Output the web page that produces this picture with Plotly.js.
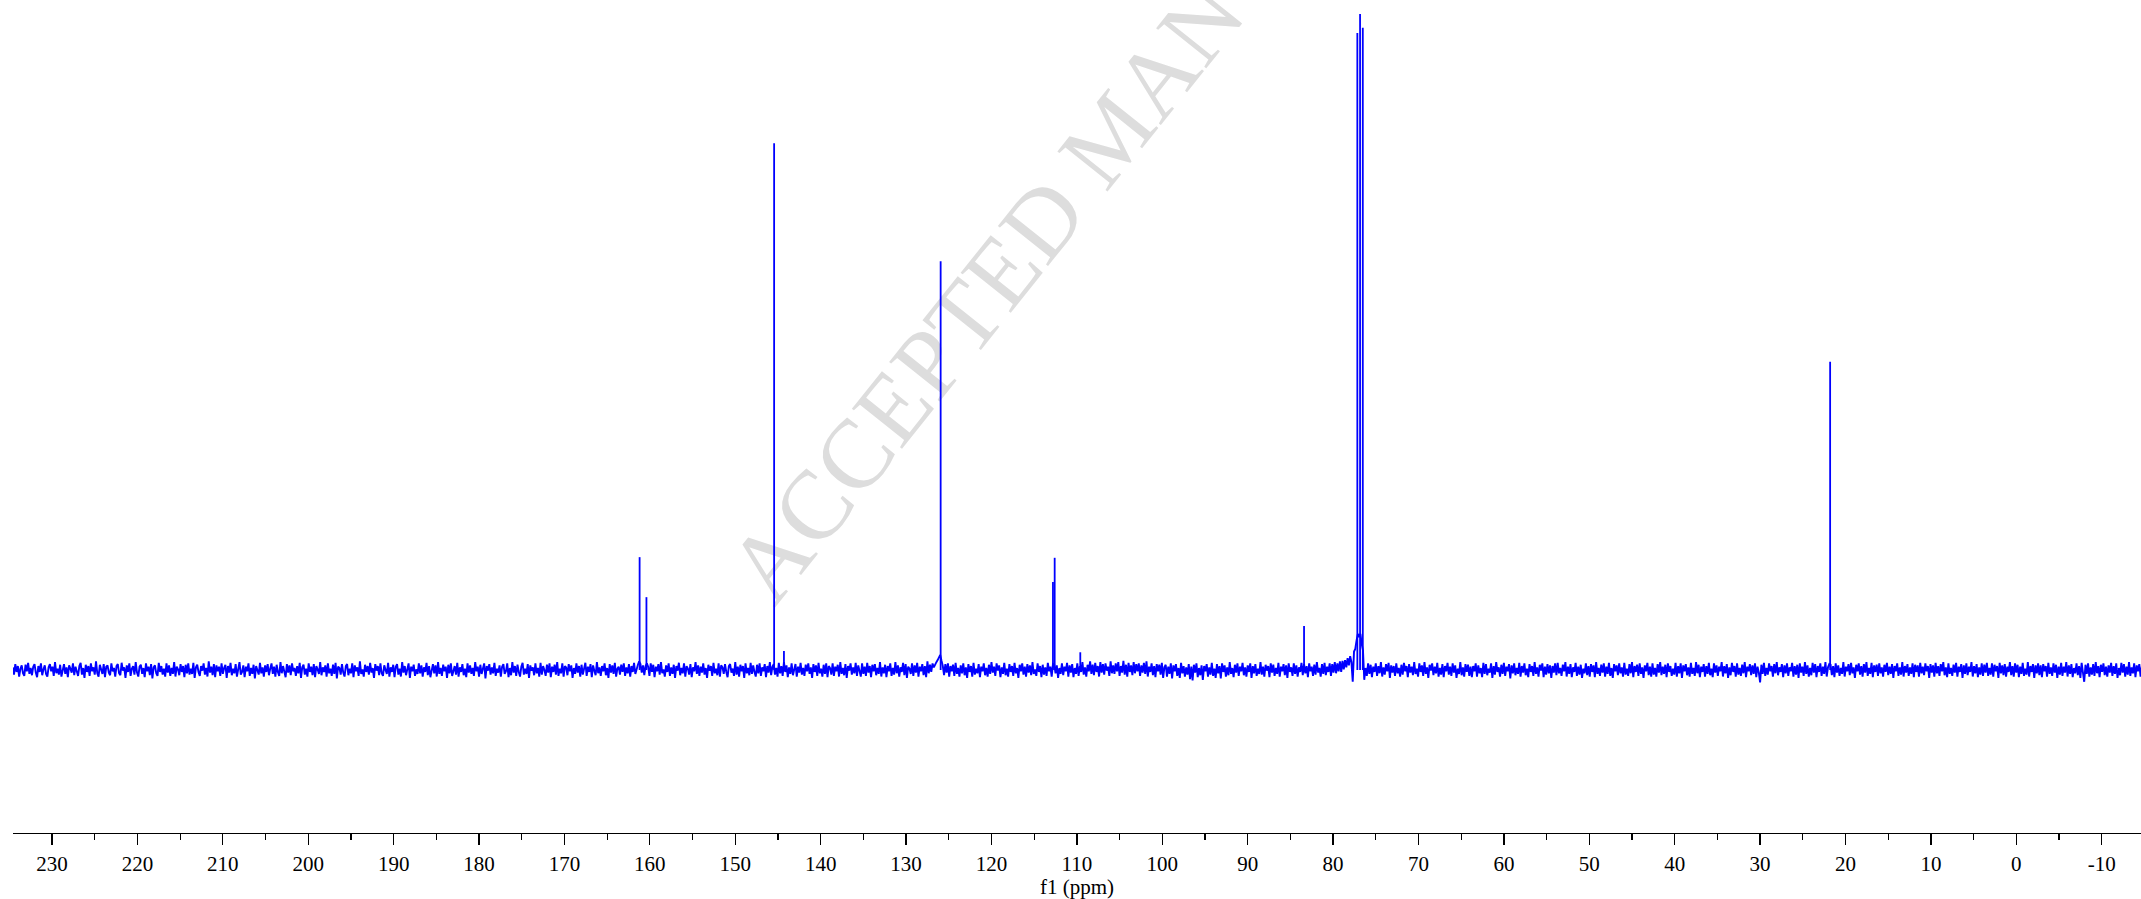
<!DOCTYPE html>
<html>
<head>
<meta charset="utf-8">
<script src="https://cdn.plot.ly/plotly-3.0.1.min.js"></script>
<style>html,body{margin:0;padding:0;background:#fff;}#chart{width:2141px;height:899px;}</style>
</head>
<body>
<div id="chart"></div>
<script>
// 13C NMR spectrum, chemical shifts in ppm, intensities relative to tallest line (=100)
const peakShifts  = [161.2, 160.4, 145.45, 144.3, 125.95, 112.8, 112.6, 109.6, 83.4, 77.16, 76.84, 76.52, 21.8];
const peakHeights = [17.2, 11.1, 80.3, 2.9, 62.3, 13.4, 17.1, 2.7, 6.7, 97.1, 100, 97.9, 47.0];

// baseline noise (estimated), sampled every 0.15 ppm starting at 234.6 ppm
const noiseStartPpm = 234.6;
const noiseStepPpm = 0.15;
const baselineNoise = [
0.4,-0.7,0.9,-0.3,0.6,-1.0,0.2,0.7,-0.5,-0.9,0.8,-0.2,1.1,-0.6,0.3,-0.8,0.5,0.9,-0.4,-1.1,
0.6,-0.3,1.0,-0.8,0.1,0.7,-0.6,-1.0,0.4,0.9,-0.2,0.5,-0.9,1.2,-0.5,0.2,-0.7,0.8,-1.0,0.3,
0.9,-0.6,0.4,-1.1,0.7,0.2,-0.4,1.0,-0.8,0.5,-0.1,-0.9,0.6,1.1,-0.7,0.3,-1.2,0.8,-0.3,0.6,
-0.9,1.0,-0.2,0.4,-0.7,1.3,-0.5,-1.0,0.8,0.1,-0.6,0.9,-1.1,0.5,0.7,-0.4,-0.8,1.0,-0.2,0.3,
-1.0,0.6,0.9,-0.5,-0.8,1.1,-0.1,0.4,-1.2,0.7,-0.3,1.0,-0.9,0.2,0.6,-0.7,1.2,-0.4,-1.0,0.5,
0.8,-0.6,0.3,-1.1,1.0,-0.2,0.5,-0.8,0.9,-1.3,0.4,0.7,-0.5,-0.9,1.1,-0.3,0.6,-0.7,0.2,-1.0,
1.0,-0.4,0.7,-0.9,0.3,-0.6,1.2,-1.0,0.5,0.1,-0.8,0.9,-0.3,0.6,-1.1,0.8,-0.5,1.0,-0.7,0.2,
-0.6,1.1,-1.2,0.4,0.8,-0.3,-0.9,0.6,-0.1,1.0,-0.7,0.3,-1.0,1.3,-0.4,0.5,-0.8,0.9,-1.1,0.7,
-0.2,0.5,-0.9,1.0,-0.6,0.3,0.8,-1.2,0.6,-0.4,1.1,-0.8,0.2,-0.5,0.9,-1.0,0.4,1.2,-0.7,-0.3,
0.7,-1.1,0.5,-0.2,1.0,-0.9,0.3,-0.6,0.8,-1.3,0.6,0.1,-0.7,1.1,-0.5,0.4,-1.0,0.7,-0.3,0.9,
-0.8,0.2,1.0,-0.6,0.5,-1.0,0.8,-0.3,-0.9,1.2,-0.5,0.6,-0.1,-1.1,0.9,-0.4,0.7,-0.8,1.0,-0.2,
0.3,-0.9,0.6,-0.5,1.1,-1.2,0.4,0.8,-0.7,0.2,-1.0,1.0,-0.3,0.5,-0.8,0.9,-1.1,0.6,0.1,-0.6,
1.2,-0.8,0.4,-0.3,0.7,-1.0,1.0,-0.5,0.2,-0.9,0.8,-0.6,1.1,-1.3,0.5,0.3,-0.7,0.9,-0.4,-1.0,
0.6,0.9,-0.8,0.2,-0.5,1.0,-1.1,0.7,-0.2,0.4,-0.9,1.3,-0.6,0.1,-1.0,0.8,-0.3,0.6,-0.7,1.1,
-0.4,0.3,-1.2,0.9,-0.1,0.6,-0.8,1.0,-0.5,-0.9,0.7,0.2,-0.6,1.1,-1.0,0.4,-0.3,0.8,-1.1,0.5,
0.9,-0.7,0.2,-1.0,1.2,-0.4,0.6,-0.8,0.3,1.0,-1.2,0.5,-0.2,0.8,-0.9,0.1,-0.6,1.0,-0.5,0.7,
-1.0,0.4,-0.3,1.1,-0.8,0.6,-1.1,0.2,0.9,-0.5,0.7,-1.0,1.2,-0.6,0.3,-0.9,0.8,-0.2,0.5,-1.2,
0.8,-0.5,1.0,-0.9,0.1,0.6,-0.7,1.1,-1.0,0.4,-0.3,0.9,-0.8,0.2,-1.1,1.0,-0.4,0.7,-0.6,0.3,
-0.9,1.2,-0.2,0.5,-1.0,0.8,-0.6,0.3,1.0,-1.3,0.6,-0.1,0.9,-0.7,0.4,-0.5,1.1,-0.9,0.2,-0.4,
0.7,-1.0,0.5,0.9,-0.6,-0.2,1.0,-1.1,0.3,-0.8,1.2,-0.4,0.6,-0.9,0.8,-0.3,-1.0,0.5,1.1,-0.7,
0.2,-0.6,0.9,-1.2,0.7,-0.1,0.4,-0.8,1.0,-0.5,0.3,-1.0,1.1,-0.7,0.6,0.0,-0.9,0.8,-0.4,1.0,
-1.1,0.5,-0.3,0.8,-0.7,1.2,-0.9,0.2,-0.5,1.0,-1.0,0.6,0.4,-0.8,0.9,-0.2,0.7,-1.2,0.3,-0.6,
1.0,-0.4,0.6,-1.0,0.8,-0.7,0.2,1.1,-0.9,0.5,-0.3,0.9,-1.1,0.7,-0.1,-0.8,1.2,-0.5,0.4,-0.9,
0.6,-0.2,1.0,-0.8,0.3,-1.2,0.9,-0.4,0.7,-0.6,1.1,-1.0,0.2,0.5,-0.7,0.8,-0.3,1.0,-0.9,0.4,
-0.5,0.9,-1.0,0.6,-0.3,1.1,-0.6,0.3,0.8,1.3,0.9,-0.4,0.7,-0.8,0.6,1.0,0.5,-0.9,1.0,-0.3,
0.8,-1.1,0.5,-0.2,0.9,-0.7,1.2,-0.5,0.1,-1.0,0.7,-0.3,1.0,-0.9,0.4,-0.6,0.8,-1.2,0.6,-0.1,
1.1,-0.8,0.3,-0.5,1.0,-1.0,0.6,0.2,-0.7,0.9,-1.1,0.4,-0.2,1.2,-0.6,0.7,-0.9,0.5,-0.4,1.0,
-0.7,0.3,-1.2,0.8,-0.1,0.6,-0.9,1.1,-0.5,0.2,-0.8,1.0,-1.0,0.7,0.4,-0.6,0.9,-0.3,-1.1,0.6,
0.9,-0.4,0.2,-0.9,1.2,-0.7,0.5,-1.0,0.8,-0.2,0.6,-1.2,1.0,-0.5,0.3,-0.8,1.1,-0.6,0.7,-0.3,
-1.0,0.8,-0.5,1.0,-0.9,0.4,-0.2,0.9,-1.1,0.6,-0.4,1.2,-0.8,0.5,0.9,-0.7,0.3,-1.0,1.1,-0.5,
0.6,-0.9,1.2,-0.3,0.7,-1.1,0.4,-0.6,1.0,-0.8,0.2,0.9,-1.0,0.5,-0.4,1.1,-0.7,0.3,-0.9,0.8,
-0.2,1.0,-0.6,0.4,-1.2,0.9,-0.3,0.7,-0.9,1.1,-0.5,0.2,-1.0,0.8,-0.6,1.0,-1.1,0.6,0.3,-0.7,
1.0,-0.9,0.5,-0.2,0.8,-1.0,1.2,-0.6,0.3,-0.8,0.9,-1.2,0.6,-0.1,1.0,-0.7,0.4,-0.5,1.1,-0.9,
0.7,-0.3,-1.0,1.0,-0.6,0.5,-0.9,1.1,-0.4,0.6,-1.1,0.8,-0.2,0.9,-0.8,0.3,-0.6,1.2,-1.0,0.4,
-0.5,0.8,-1.1,0.6,-0.2,1.0,-0.9,0.3,-0.7,1.2,-0.5,0.7,-1.0,0.4,-0.3,1.1,-0.8,0.9,-1.2,0.5,
0.2,-0.6,1.0,-0.9,0.7,-0.4,1.1,-1.0,0.5,-0.2,0.9,-0.8,0.6,-1.1,1.3,-0.5,0.8,-0.3,1.0,0.4,
0.9,1.2,1.5,1.9,2.3,1.4,0.6,-0.8,0.9,-0.4,1.0,-1.0,0.6,-0.2,0.8,-0.9,1.1,-0.6,0.3,-1.0,
0.7,-0.5,1.0,-0.8,0.4,-1.2,0.9,-0.3,0.6,-1.0,1.1,-0.7,0.2,-0.5,0.9,-1.1,0.5,-0.2,1.0,-0.8,
0.3,-1.0,0.8,-0.6,1.2,-0.4,0.5,-0.9,1.0,-0.1,0.7,-1.1,0.4,-0.6,1.1,-0.8,0.2,-1.0,0.9,-0.3,
0.6,-0.9,1.1,-0.5,0.3,-1.2,0.8,-0.2,1.0,-0.7,0.5,-1.0,0.9,-0.4,0.7,-0.8,1.2,-0.6,0.1,-0.9,
1.0,-0.3,0.6,-1.1,0.8,-0.7,0.4,-0.9,1.1,-0.2,0.5,-1.0,0.9,0.8,-0.5,0.7,-1.2,0.3,-0.6,1.0,
-0.8,0.5,-0.2,1.1,-1.0,0.7,-0.4,0.9,-1.1,0.3,-0.6,1.0,-0.9,0.6,-0.3,1.2,-0.7,0.4,-1.0,0.8,
-0.2,1.3,-0.6,0.8,-0.8,1.1,-0.3,0.6,-1.0,1.2,-0.4,0.9,-0.7,1.0,-0.1,0.5,-0.9,1.3,-0.5,0.7,
-0.6,1.0,-0.2,1.2,-0.9,0.6,-0.4,1.4,-0.7,0.8,-1.0,1.1,-0.3,0.7,-0.8,1.2,-0.5,0.9,-0.2,1.0,
-0.9,0.7,-0.4,1.1,-0.6,1.3,-1.0,0.5,-0.3,1.0,-0.8,0.6,-1.1,0.9,-0.2,0.8,-0.7,1.1,-1.2,0.4,
0.8,-1.0,0.5,-0.6,1.0,-1.3,0.7,-0.2,0.9,-0.9,0.3,-1.2,1.1,-0.5,0.6,-1.0,0.4,-0.7,0.9,-1.4,
0.5,-1.6,0.8,-0.4,1.0,-1.1,0.3,-0.8,0.7,-1.5,0.6,-0.2,0.9,-1.0,0.4,-0.7,1.1,-0.9,0.2,-1.2,
0.9,-0.5,0.6,-1.3,1.0,-0.3,0.7,-1.0,0.4,-0.8,1.2,-0.6,0.3,-1.1,0.8,-0.4,1.0,-0.9,0.5,-0.2,
1.1,-0.8,0.4,-1.0,0.7,-0.3,1.0,-1.2,0.6,-0.5,0.9,-0.9,0.2,-0.6,1.2,-0.7,0.5,-1.0,0.8,-0.1,
0.6,-1.1,1.0,-0.4,0.8,-0.9,0.3,-0.6,1.1,-1.0,0.5,-0.2,0.9,-0.8,0.7,-1.2,1.0,-0.3,0.4,-0.9,
1.0,-0.6,0.7,-1.0,0.4,-0.3,1.1,-0.8,0.9,-0.5,0.6,-1.1,1.0,-0.2,0.5,-0.9,0.8,-0.7,1.2,-0.4,
0.3,-1.0,0.9,-0.6,1.1,-0.8,0.5,-0.3,1.0,-0.9,0.9,-0.4,1.2,-0.5,1.0,-0.2,1.3,-0.3,1.4,0.1,
1.5,0.4,1.8,0.7,2.1,1.2,-1.8,2.8,3.2,4.5,5.5,5.0,5.5,4.0,3.0,-1.5,0.3,-0.9,1.0,-0.6,
0.8,-1.1,0.5,-0.3,1.0,-0.9,0.6,-0.5,1.2,-1.0,0.4,-0.7,0.9,-0.2,1.1,-1.2,0.7,-0.4,0.6,-0.9,
1.0,-0.5,0.3,-1.0,0.8,-0.7,1.1,-0.2,0.6,-1.1,0.9,-0.4,0.5,-0.8,1.2,-0.6,0.2,-1.0,1.0,-0.3,
0.7,-0.9,1.2,-0.6,0.4,-1.2,0.8,-0.1,1.0,-0.8,0.5,-0.5,1.1,-1.0,0.3,-0.7,0.9,-1.1,0.6,-0.2,
1.1,-0.7,0.5,-0.9,1.0,-0.4,0.7,-1.2,0.2,-0.6,1.2,-0.8,0.4,-1.0,0.9,-0.3,0.8,-0.9,0.5,-1.1,
0.6,-0.2,1.0,-1.0,0.7,-0.5,0.3,-1.1,1.1,-0.6,0.9,-0.8,0.2,-0.4,1.0,-1.2,0.6,-0.7,1.2,-0.3,
0.4,-1.0,0.8,-0.6,1.1,-0.9,0.5,-0.2,0.9,-1.3,0.7,-0.5,1.0,-0.8,0.3,-0.6,1.1,-1.0,0.6,-0.4,
1.0,-0.8,0.2,-1.1,0.9,-0.3,0.6,-0.9,1.2,-0.6,0.4,-1.0,0.8,-0.1,1.0,-1.1,0.5,-0.7,0.9,-0.5,
0.7,-1.2,0.6,-0.4,1.0,-0.8,1.1,-0.5,0.3,-0.9,0.8,-0.2,1.2,-1.0,0.5,-0.6,0.9,-1.1,0.4,-0.3,
1.1,-0.9,0.5,-0.7,0.8,-1.2,0.2,-0.5,1.0,-0.8,0.6,-1.0,0.9,-0.3,0.7,-1.1,1.2,-0.6,0.3,-0.9,
0.8,-0.4,1.0,-1.0,0.5,-0.6,1.1,-0.9,0.3,-1.2,0.9,-0.2,0.7,-0.8,1.0,-0.5,0.4,-1.0,1.1,-0.7,
0.2,-0.9,0.9,-0.5,1.2,-1.1,0.6,-0.3,0.8,-0.9,1.0,-0.6,0.4,-1.2,0.7,-0.2,1.1,-0.8,0.5,-1.0,
1.0,-0.7,0.3,-1.0,0.9,-0.4,1.2,-0.8,0.5,-0.6,0.8,-1.1,1.0,-0.3,0.6,-0.9,0.2,-0.7,1.1,-1.0,
0.6,-0.5,1.0,-1.2,0.7,-0.2,0.9,-0.8,0.4,-1.0,1.1,-0.6,0.3,-0.9,1.2,-0.5,0.8,-1.1,0.5,-0.3,
0.9,-1.0,0.6,-0.6,1.1,-0.8,0.2,-1.1,1.0,-0.4,0.7,-0.9,0.5,-0.2,1.2,-1.0,0.6,-0.5,0.9,-1.2,
0.4,-0.8,1.1,-0.3,0.6,-1.0,1.0,-0.7,0.3,-0.9,0.8,-0.5,1.2,-1.1,0.5,-0.2,0.9,-0.8,0.7,-0.6,
1.0,-1.1,0.5,-0.4,-1.9,0.8,-0.6,1.1,-0.9,0.3,-0.7,1.0,-0.2,0.6,-1.0,0.9,-0.5,1.2,-0.8,0.4,
-0.3,0.9,-1.1,0.7,-0.5,1.0,-0.9,0.4,-0.2,1.1,-1.0,0.6,-0.7,0.8,-1.2,1.0,-0.4,0.5,-0.9,1.2,
-0.6,0.7,-1.0,0.3,-0.8,1.1,-0.4,0.9,-1.1,0.6,-0.3,1.0,-0.9,0.5,-0.6,1.2,-1.0,0.4,0.9,0.8,
-0.8,0.6,-1.1,1.0,-0.4,0.7,-0.9,0.3,-0.6,1.2,-1.0,0.5,-0.2,0.9,-0.8,1.1,-0.5,0.4,-1.2,0.8,
-0.2,1.0,-0.7,0.6,-1.0,0.9,-0.4,1.2,-0.9,0.3,-0.6,1.1,-1.1,0.7,-0.3,0.8,-0.9,1.0,-0.5,0.4,
-1.0,0.8,-0.3,1.1,-0.8,0.5,-0.6,0.9,-1.2,0.6,-0.2,1.0,-0.9,0.4,-0.7,1.2,-1.0,0.6,-0.4,0.9,
-0.9,0.4,-0.6,1.0,-1.1,0.8,-0.3,0.7,-1.0,1.1,-0.5,0.5,-0.8,1.0,-0.2,0.6,-1.2,0.9,-0.4,0.7,
-1.0,1.1,-0.5,0.6,-0.9,0.9,-0.2,1.2,-0.8,0.4,-1.1,1.0,-0.6,0.3,-0.9,0.8,-0.4,1.1,-1.0,0.5,
-0.3,0.9,-1.2,0.7,-0.6,1.0,-0.8,0.5,-0.3,1.2,-1.0,0.6,-0.5,0.9,-1.1,0.4,-0.7,1.0,-0.9,0.8,
-0.4,1.1,-0.9,0.3,-0.7,1.0,-1.0,0.8,-0.2,0.6,-1.2,1.1,-0.5,0.7,-0.8,0.9,-1.0,0.5,-0.3,1.2,
-0.8,0.6,-1.0,1.0,-0.4,0.8,-1.1,0.5,-0.6,1.1,-0.9,0.2,-0.7,1.2,-1.0,0.6,-0.3,0.9,-1.2,0.7,
-0.5,1.0,-0.8,0.7,-1.1,0.9,-0.2,0.6,-1.0,1.1,-0.6,0.4,-0.9,1.0,-0.4,0.8,-1.2,0.5,-0.7,1.1,
-0.9,0.5,-0.4,1.2,-1.0,0.7,-0.6,0.9,-1.1,0.3,-0.5,1.0,-0.8,0.6,-1.2,1.1,-0.3,-1.8,0.8,-0.6,
1.0,-1.0,0.4,-0.7,0.9,-0.9,1.2,-0.5,0.6,-1.1,0.8,-0.3,1.0,-0.8,0.5,-1.0,0.7,-0.4,1.1,-0.9,
0.6,-0.6,1.0,-1.2,0.3,-0.8,1.1,-0.4,0.9,-1.0,0.5,-0.7,1.2,-0.9,0.4,-0.5,1.0,-1.1,0.7,-0.2,
0.9,-1.0,0.5,-0.6,1.1,-0.8,0.7,-1.1,0.3,-0.5,1.0,-0.9,0.6,-0.4,1.2,-1.0,0.8,-0.7,0.4,-0.9
];

const tickValues = [230,220,210,200,190,180,170,160,150,140,130,120,110,100,90,80,70,60,50,40,30,20,10,0,-10];
const tickLabels = ['230','220','210','200','190','180','170','160','150','140','130','120','110','100','90','80','70','60','50','40','30','20','10','0','-10'];

const noiseX = baselineNoise.map((v, i) => +(noiseStartPpm - i * noiseStepPpm).toFixed(2));

const peakX = [], peakY = [];
peakShifts.forEach((s, i) => { peakX.push(s, s, null); peakY.push(0, peakHeights[i], null); });

const blue = '#0000FF';
const traces = [
  {x: noiseX, y: baselineNoise, type: 'scatter', mode: 'lines', line: {color: blue, width: 1.9}, hoverinfo: 'skip'},
  {x: peakX, y: peakY, type: 'scatter', mode: 'lines', line: {color: blue, width: 1.8}, hoverinfo: 'skip', connectgaps: false}
];

const font = {family: '"Liberation Serif", "Times New Roman", serif', size: 21, color: '#000'};

const layout = {
  width: 2141, height: 899,
  margin: {l: 13, r: 0, t: 0, b: 66},
  paper_bgcolor: '#fff', plot_bgcolor: '#fff',
  showlegend: false,
  font: font,
  xaxis: {
    range: [234.57, -14.6],
    showline: true, linecolor: '#000', linewidth: 1.3,
    ticks: 'outside', ticklen: 11, tickwidth: 1.3, tickcolor: '#000',
    tickvals: tickValues, ticktext: tickLabels,
    tickfont: font,
    minor: {ticks: 'outside', ticklen: 6, tickwidth: 1.2, tickcolor: '#000', dtick: 5, tick0: 0, showgrid: false},
    showgrid: false, zeroline: false,
    title: {text: 'f1 (ppm)', font: font, standoff: 0}
  },
  yaxis: {range: [-24.85, 102.13], visible: false, showgrid: false, zeroline: false},
  shapes: [{
    type: 'line', xref: 'paper', yref: 'paper', layer: 'below',
    x0: 0.3360, y0: 0.2845, x1: 0.6884, y1: 1.4106,
    line: {width: 0, color: 'rgba(0,0,0,0)'},
    label: {text: 'ACCEPTED MANUSCRIPT', textposition: 'middle', yanchor: 'middle',
            font: {family: '"Liberation Serif", "Times New Roman", serif', size: 98, color: '#dddddd'}}
  }]
};

Plotly.newPlot('chart', traces, layout, {displayModeBar: false, staticPlot: true});
</script>
</body>
</html>
